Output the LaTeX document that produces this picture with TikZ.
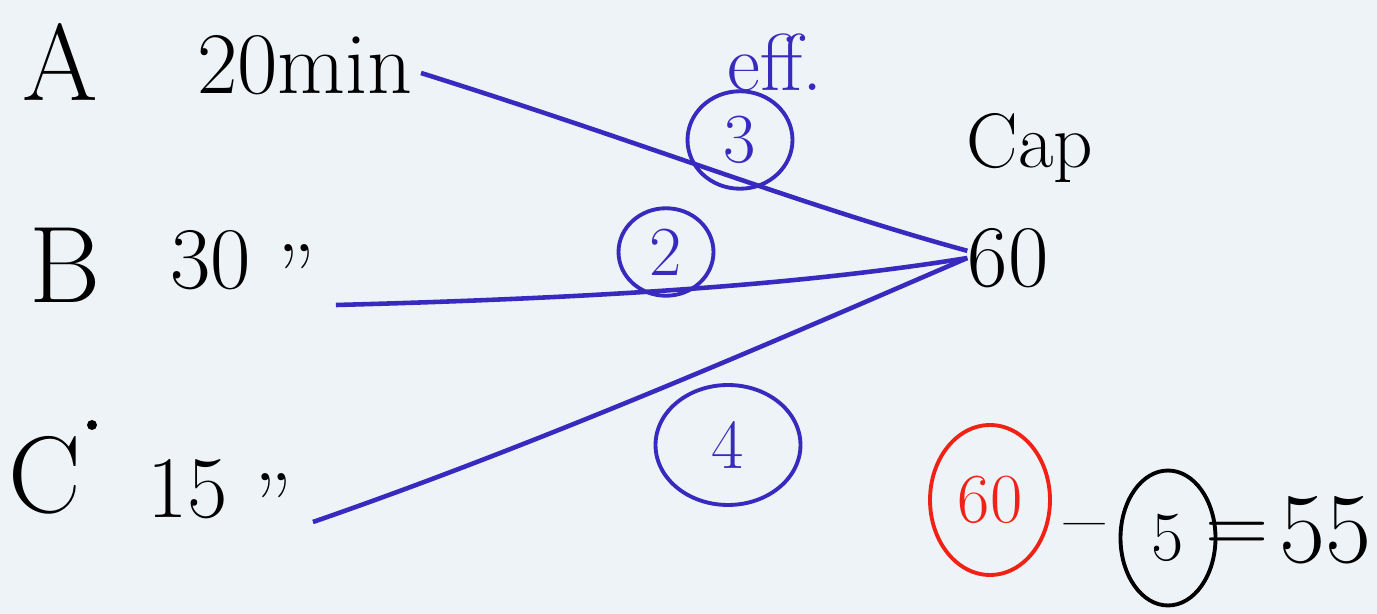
\documentclass[tikz,border=0pt]{standalone}
\usepackage{tikz}
\usetikzlibrary{arrows.meta}
\usetikzlibrary{calc}
\usepackage{xcolor}
\usetikzlibrary{shapes.geometric}

\definecolor{penblue}{RGB}{56,42,190}
\definecolor{penred}{RGB}{240,34,22}
\definecolor{paper}{RGB}{237,243,247}

\newcommand{\ditto}{\raisebox{-0.45ex}{''}}

\begin{document}
\begin{tikzpicture}[x=0.02cm,y=-0.02cm,
		ink/.style={inner sep=0pt,font=\fontsize{50}{56}\selectfont},
		big/.style={inner sep=0pt,font=\fontsize{62}{70}\selectfont},
		ring/.style={ellipse,draw,line width=2.2pt,inner sep=0pt,font=\fontsize{40}{46}\selectfont},
		link/.style={penblue,line width=2.6pt}]
		
		% The page
		\fill[paper] (0,0) rectangle (1377,614);
		\useasboundingbox (0,0) rectangle (1377,614);
		
		% Jobs and their times
		\node[big] (jobA) at (60,62) {A};
		\node[big] (jobB) at (65,265) {B};
		\node[big] (jobC) at (45,475) {C};
		\fill (92,425) circle (5);
		\node[ink] (timeA) at (305,65) {20min};
		\node[ink] (timeB) at (243,268) {30 \ditto};
		\node[ink] (timeC) at (220,497) {15 \ditto};
		
		% Capacity
		\node[inner sep=0pt,font=\fontsize{44}{50}\selectfont] (capword) at (1030,148) {Cap};
		\node[ink] (cap60) at (1008,258) {60};
		
		% Links with their efficiencies
		\draw[link] (timeA.east)+(8,8) .. controls (650,145) and (800,205) .. (cap60.170);
		\draw[link] (timeB.east)+(20,37) .. controls (600,298) and (800,285) .. (cap60.west);
		\draw[link] (timeC.east)+(20,25) .. controls (550,440) and (800,330) .. (cap60.west);
		
		\node[penblue,inner sep=0pt,font=\fontsize{46}{52}\selectfont] (effword) at (775,62) {eff.};
		\node[ring,penblue,minimum width=2.1cm,minimum height=1.95cm] (eff3) at (740,140) {3};
		\node[ring,penblue,minimum width=1.9cm,minimum height=1.75cm] (eff2) at (666,252) {2};
		\node[ring,penblue,minimum width=2.9cm,minimum height=2.4cm] (eff4) at (728,445) {4};
		
		% Remaining capacity
		\node[ring,penred,minimum width=2.4cm,minimum height=3cm] (red60) at (990,500) {60};
		\node[ink] (minus) at (1085,535) {--};
		\node[ring,minimum width=1.9cm,minimum height=2.7cm] (ring5) at (1168,538) {5};
		\node[ink] (equals) at (1237,538) {=};
		\node[ink,font=\fontsize{57}{62}\selectfont] (rest) at (1325,530) {55};
		
	\end{tikzpicture}
\end{document}
